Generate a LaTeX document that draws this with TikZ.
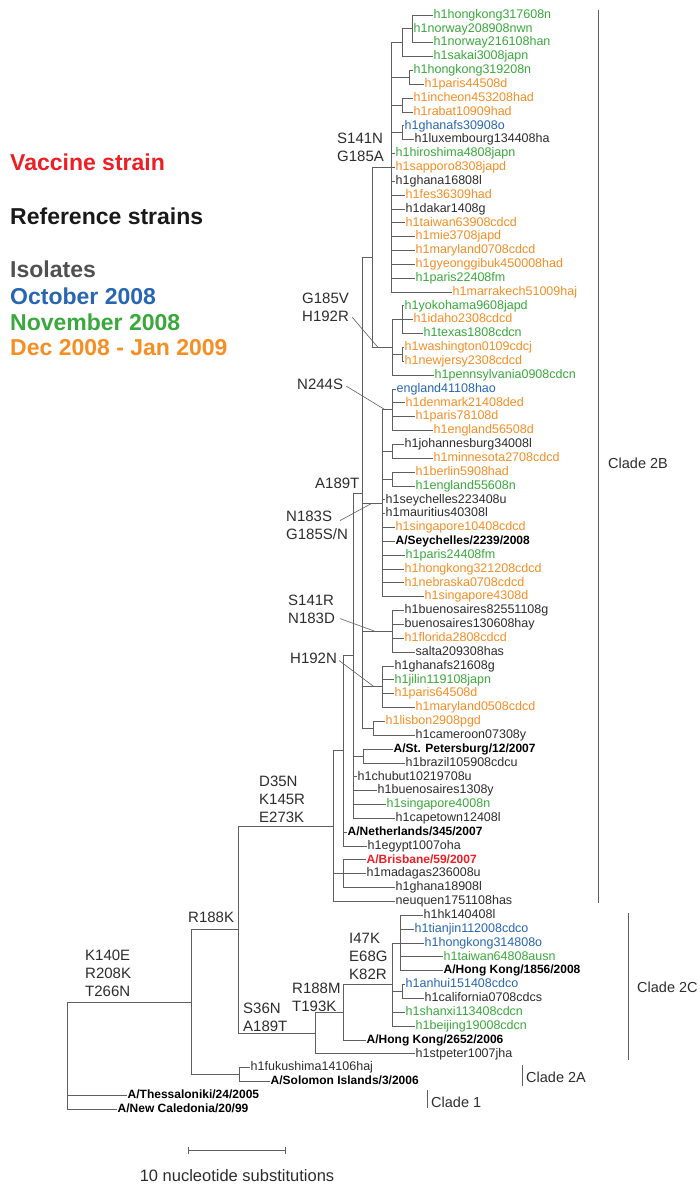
\documentclass[tikz,border=0pt]{standalone}
\usepackage{fontspec}
\setmainfont{Liberation Sans}
\definecolor{vacred}{RGB}{237,30,36}
\definecolor{octblue}{RGB}{40,102,178}
\definecolor{novgreen}{RGB}{58,168,60}
\definecolor{decorange}{RGB}{246,142,36}
\definecolor{isogray}{RGB}{80,80,80}
\definecolor{txtgray}{RGB}{45,45,45}
\definecolor{linegray}{RGB}{95,95,95}
\tikzset{
  br/.style={draw=linegray, line width=0.8pt},
  mutline/.style={draw=linegray, line width=0.6pt},
  cladebar/.style={draw=linegray, line width=0.8pt},
  leaf/.style={anchor=west, inner xsep=0.5pt, inner ysep=0pt, text height=9pt, text depth=2.5pt,
    font=\fontsize{12.5}{14}\selectfont, text=txtgray},
  grn/.style={text=novgreen},
  org/.style={text=decorange},
  blu/.style={text=octblue},
  refst/.style={font=\fontsize{12}{14}\selectfont\bfseries, text=black},
  vacst/.style={font=\fontsize{12}{14}\selectfont\bfseries, text=vacred},
  mut/.style={anchor=north west, inner sep=0pt, align=left, font=\fontsize{15}{18}\selectfont, text=txtgray},
  legendtxt/.style={anchor=west, inner sep=0pt, font=\fontsize{23}{27}\selectfont\bfseries},
  cladelbl/.style={anchor=west, inner sep=0pt, font=\fontsize{14.5}{17}\selectfont, text=txtgray}
}
\begin{document}
\begin{tikzpicture}[x=1pt,y=-1pt]
\fill[white] (0,0) rectangle (699,1185);
\useasboundingbox (0,0) rectangle (699,1185);
% legend
\node[legendtxt,text=vacred] (lgvac) at (10,162) {Vaccine strain};
\node[legendtxt,text=black!90] (lgref) at (10,216) {Reference strains};
\node[legendtxt,text=isogray] (lgiso) at (10,269) {Isolates};
\node[legendtxt,text=octblue] (lgoct) at (10,296) {October 2008};
\node[legendtxt,text=novgreen] (lgnov) at (10,322) {November 2008};
\node[legendtxt,text=decorange] (lgdec) at (10,348) {Dec 2008 - Jan 2009};
% leaves
\path (433,15) node[leaf,grn] (l1) {h1hongkong317608n}
(413,28.85) node[leaf,grn] (l2) {h1norway208908nwn}
(433,42.7) node[leaf,grn] (l3) {h1norway216108han}
(433,56.55) node[leaf,grn] (l4) {h1sakai3008japn}
(413,70.4) node[leaf,grn] (l5) {h1hongkong319208n}
(424,84.25) node[leaf,org] (l6) {h1paris44508d}
(413,98.1) node[leaf,org] (l7) {h1incheon453208had}
(413,111.95) node[leaf,org] (l8) {h1rabat10909had}
(404,125.8) node[leaf,blu] (l9) {h1ghanafs30908o}
(414,139.65) node[leaf] (l10) {h1luxembourg134408ha}
(395,153.5) node[leaf,grn] (l11) {h1hiroshima4808japn}
(395,167.35) node[leaf,org] (l12) {h1sapporo8308japd}
(395,181.2) node[leaf] (l13) {h1ghana16808l}
(405,195.05) node[leaf,org] (l14) {h1fes36309had}
(405,208.9) node[leaf] (l15) {h1dakar1408g}
(405,222.75) node[leaf,org] (l16) {h1taiwan63908cdcd}
(415,236.6) node[leaf,org] (l17) {h1mie3708japd}
(415,250.45) node[leaf,org] (l18) {h1maryland0708cdcd}
(415,264.3) node[leaf,org] (l19) {h1gyeonggibuk450008had}
(415,278.15) node[leaf,grn] (l20) {h1paris22408fm}
(452,292) node[leaf,org] (l21) {h1marrakech51009haj}
(404,305.85) node[leaf,grn] (l22) {h1yokohama9608japd}
(413,319.7) node[leaf,org] (l23) {h1idaho2308cdcd}
(423,333.55) node[leaf,grn] (l24) {h1texas1808cdcn}
(404,347.4) node[leaf,org] (l25) {h1washington0109cdcj}
(404,361.25) node[leaf,org] (l26) {h1newjersy2308cdcd}
(434,375.1) node[leaf,grn] (l27) {h1pennsylvania0908cdcn}
(396,388.95) node[leaf,blu] (l28) {england41108hao}
(405,402.8) node[leaf,org] (l29) {h1denmark21408ded}
(415,416.65) node[leaf,org] (l30) {h1paris78108d}
(433,430.5) node[leaf,org] (l31) {h1england56508d}
(404,444.35) node[leaf] (l32) {h1johannesburg34008l}
(433,458.2) node[leaf,org] (l33) {h1minnesota2708cdcd}
(415,472.05) node[leaf,org] (l34) {h1berlin5908had}
(415,485.9) node[leaf,grn] (l35) {h1england55608n}
(385,499.75) node[leaf] (l36) {h1seychelles223408u}
(385,513.6) node[leaf] (l37) {h1mauritius40308l}
(395,527.45) node[leaf,org] (l38) {h1singapore10408cdcd}
(395,541.3) node[leaf,refst] (l39) {A/Seychelles/2239/2008}
(405,555.15) node[leaf,grn] (l40) {h1paris24408fm}
(404,569) node[leaf,org] (l41) {h1hongkong321208cdcd}
(404,582.85) node[leaf,org] (l42) {h1nebraska0708cdcd}
(424,596.7) node[leaf,org] (l43) {h1singapore4308d}
(404,610.55) node[leaf] (l44) {h1buenosaires82551108g}
(404,624.4) node[leaf] (l45) {buenosaires130608hay}
(404,638.25) node[leaf,org] (l46) {h1florida2808cdcd}
(415,652.1) node[leaf] (l47) {salta209308has}
(394,665.95) node[leaf] (l48) {h1ghanafs21608g}
(394,679.8) node[leaf,grn] (l49) {h1jilin119108japn}
(394,693.65) node[leaf,org] (l50) {h1paris64508d}
(415,707.5) node[leaf,org] (l51) {h1maryland0508cdcd}
(385,721.35) node[leaf,org] (l52) {h1lisbon2908pgd}
(415,735.2) node[leaf] (l53) {h1cameroon07308y}
(393,749.05) node[leaf,refst] (l54) {A/St. Petersburg/12/2007}
(405,762.9) node[leaf] (l55) {h1brazil105908cdcu}
(357,776.75) node[leaf] (l56) {h1chubut10219708u}
(377,790.6) node[leaf] (l57) {h1buenosaires1308y}
(386,804.45) node[leaf,grn] (l58) {h1singapore4008n}
(395,818.3) node[leaf] (l59) {h1capetown12408l}
(347,832.15) node[leaf,refst] (l60) {A/Netherlands/345/2007}
(367,846) node[leaf] (l61) {h1egypt1007oha}
(366,859.85) node[leaf,vacst] (l62) {A/Brisbane/59/2007}
(366,873.7) node[leaf] (l63) {h1madagas236008u}
(395,887.55) node[leaf] (l64) {h1ghana18908l}
(395,901.4) node[leaf] (l65) {neuquen1751108has}
(423,915.25) node[leaf] (l66) {h1hk140408l}
(414,929.1) node[leaf,blu] (l67) {h1tianjin112008cdco}
(424,942.95) node[leaf,blu] (l68) {h1hongkong314808o}
(443,956.8) node[leaf,grn] (l69) {h1taiwan64808ausn}
(443,970.65) node[leaf,refst] (l70) {A/Hong Kong/1856/2008}
(405,984.5) node[leaf,blu] (l71) {h1anhui151408cdco}
(424,998.35) node[leaf] (l72) {h1california0708cdcs}
(405,1012.2) node[leaf,grn] (l73) {h1shanxi113408cdcn}
(415,1026.05) node[leaf,grn] (l74) {h1beijing19008cdcn}
(366,1039.9) node[leaf,refst] (l75) {A/Hong Kong/2652/2006}
(415,1053.75) node[leaf] (l76) {h1stpeter1007jha}
(250,1067.6) node[leaf] (l77) {h1fukushima14106haj}
(270,1081.45) node[leaf,refst] (l78) {A/Solomon Islands/3/2006}
(127,1095.3) node[leaf,refst] (l79) {A/Thessaloniki/24/2005}
(117,1109.15) node[leaf,refst] (l80) {A/New Caledonia/20/99};
% internal nodes
\coordinate (root) at (67,1002);
\coordinate (nBig) at (191,1002);
\coordinate (nK) at (238,929.5);
\coordinate (nSol) at (239,1074.5);
\coordinate (nS36) at (315,1033);
\coordinate (nR188M) at (343,1012.2);
\coordinate (nI47K) at (392,984.5);
\coordinate (nHK) at (400,942.95);
\coordinate (nAnhui) at (402,991.4);
\coordinate (nD) at (333,826.1);
\coordinate (nBr) at (343,873.7);
\coordinate (nT) at (343,750.8);
\coordinate (nR) at (353,655.6);
\coordinate (nStP) at (363,756);
\coordinate (nQ) at (362,492.9);
\coordinate (nL) at (373,728.3);
\coordinate (nH) at (382,686.7);
\coordinate (nB) at (392,631.3);
\coordinate (nS) at (382,503.2);
\coordinate (nBer) at (392,479);
\coordinate (nJoh) at (392,451.3);
\coordinate (nN244) at (392,409.7);
\coordinate (nP) at (372,257.4);
\coordinate (nG) at (392,347.4);
\coordinate (nW) at (402,354.3);
\coordinate (nY) at (402,319.7);
\coordinate (nS141) at (391,167.35);
\coordinate (nGha) at (402,132.7);
\coordinate (nInc) at (402,105);
\coordinate (nHkp) at (409,77.3);
\coordinate (nN2) at (402,42.7);
\coordinate (nN1) at (412,28.85);
% branches
\draw[br] (root) |- (nBig) (root) |- (l79.west) (root) |- (l80.west);
\draw[br] (nBig) |- (nK) (nBig) |- (nSol);
\draw[br] (nSol) |- (l77.west) (nSol) |- (l78.west);
\draw[br] (nK) |- (nD) (nK) |- (nS36);
\draw[br] (nS36) |- (nR188M) (nS36) |- (l76.west);
\draw[br] (nR188M) |- (nI47K) (nR188M) |- (l75.west);
\draw[br] (nI47K) |- (nHK) (nI47K) |- (nAnhui) (nI47K) |- (l73.west) (nI47K) |- (l74.west);
\draw[br] (nHK) |- (l66.west) (nHK) |- (l67.west) (nHK) |- (l68.west) (nHK) |- (l69.west) (nHK) |- (l70.west);
\draw[br] (nAnhui) |- (l71.west) (nAnhui) |- (l72.west);
\draw[br] (nD) |- (nT) (nD) |- (nBr) (nD) |- (l65.west);
\draw[br] (nBr) |- (l62.west) (nBr) |- (l63.west) (nBr) |- (l64.west);
\draw[br] (nT) |- (nR) (nT) |- (l60.west) (nT) |- (l61.west);
\draw[br] (nR) |- (nQ) (nR) |- (nStP) (nR) |- (l56.west) (nR) |- (l57.west) (nR) |- (l58.west) (nR) |- (l59.west);
\draw[br] (nStP) |- (l54.west) (nStP) |- (l55.west);
\draw[br] (nQ) |- (nP) (nQ) |- (nS) (nQ) |- (nB) (nQ) |- (nH) (nQ) |- (nL);
\draw[br] (nL) |- (l52.west) (nL) |- (l53.west);
\draw[br] (nH) |- (l48.west) (nH) |- (l49.west) (nH) |- (l50.west) (nH) |- (l51.west);
\draw[br] (nB) |- (l44.west) (nB) |- (l45.west) (nB) |- (l46.west) (nB) |- (l47.west);
\draw[br] (nS) |- (nN244) (nS) |- (nJoh) (nS) |- (nBer) (nS) |- (l36.west) (nS) |- (l37.west)
  (nS) |- (l38.west) (nS) |- (l39.west) (nS) |- (l40.west) (nS) |- (l41.west) (nS) |- (l42.west) (nS) |- (l43.west);
\draw[br] (nN244) |- (l28.west) (nN244) |- (l29.west) (nN244) |- (l30.west) (nN244) |- (l31.west);
\draw[br] (nJoh) |- (l32.west) (nJoh) |- (l33.west);
\draw[br] (nBer) |- (l34.west) (nBer) |- (l35.west);
\draw[br] (nP) |- (nS141) (nP) |- (nG);
\draw[br] (nG) |- (nY) (nG) |- (nW) (nG) |- (l27.west);
\draw[br] (nY) |- (l22.west) (nY) |- (l23.west) (nY) |- (l24.west);
\draw[br] (nW) |- (l25.west) (nW) |- (l26.west);
\draw[br] (nS141) |- (nN2) (nS141) |- (nHkp) (nS141) |- (nInc) (nS141) |- (nGha)
  (nS141) |- (l11.west) (nS141) |- (l12.west) (nS141) |- (l13.west) (nS141) |- (l14.west)
  (nS141) |- (l15.west) (nS141) |- (l16.west) (nS141) |- (l17.west) (nS141) |- (l18.west)
  (nS141) |- (l19.west) (nS141) |- (l20.west) (nS141) |- (l21.west);
\draw[br] (nN2) |- (nN1) (nN2) |- (l4.west);
\draw[br] (nN1) |- (l1.west) (nN1) |- (l2.west) (nN1) |- (l3.west);
\draw[br] (nHkp) |- (l5.west) (nHkp) |- (l6.west);
\draw[br] (nInc) |- (l7.west) (nInc) |- (l8.west);
\draw[br] (nGha) |- (l9.west) (nGha) |- (l10.west);
% mutations
\node[mut] (mS141) at (337,132.6) {S141N\\G185A};
\node[mut] (mG185) at (302,292.6) {G185V\\H192R};
\node[mut] (mN244) at (297,378.6) {N244S};
\node[mut] (mA189) at (315,477.6) {A189T};
\node[mut] (mN183) at (286,510.6) {N183S\\G185S/N};
\node[mut] (mS141R) at (288,594.6) {S141R\\N183D};
\node[mut] (mH192) at (290,653) {H192N};
\node[mut] (mD35) at (259,776) {D35N\\K145R\\E273K};
\node[mut] (mR188K) at (188,911.6) {R188K};
\node[mut] (mK140) at (85,950) {K140E\\R208K\\T266N};
\node[mut] (mI47) at (349,932.6) {I47K\\E68G\\K82R};
\node[mut] (mR188M) at (292,982.6) {R188M\\T193K};
\node[mut] (mS36) at (243,1002.6) {S36N\\A189T};
\coordinate (cG185) at (378,347.4);
\coordinate (cN244) at (385,409.7);
\coordinate (cN183) at (372,503.2);
\coordinate (cS141R) at (375,631.3);
\coordinate (cH192) at (374,686.7);
\draw[mutline] ([shift={(3pt,-10pt)}]mG185.east) -- (cG185);
\draw[mutline] ([shift={(3pt,-2pt)}]mN244.east) -- (cN244);
\draw[mutline] ([shift={(54pt,-10pt)}]mN183.north west) -- (cN183);
\draw[mutline] ([shift={(5pt,-24pt)}]mS141R.north east) -- (cS141R);
\draw[mutline] ([shift={(2pt,-2pt)}]mH192.east) -- (cH192);
% clades
\coordinate (b2Bt) at (598,10); \coordinate (b2Bb) at (598,903);
\coordinate (b2Ct) at (628,913); \coordinate (b2Cb) at (628,1060);
\coordinate (b2At) at (522,1065); \coordinate (b2Ab) at (522,1086);
\coordinate (b1t) at (427,1090); \coordinate (b1b) at (427,1108);
\draw[cladebar] (b2Bt) -- (b2Bb);
\draw[cladebar] (b2Ct) -- (b2Cb);
\draw[cladebar] (b2At) -- (b2Ab);
\draw[cladebar] (b1t) -- (b1b);
\node[cladelbl] (lb2B) at (608,463) {Clade 2B};
\node[cladelbl] (lb2C) at (637,987) {Clade 2C};
\node[cladelbl] (lb2A) at (526,1077) {Clade 2A};
\node[cladelbl] (lb1) at (431,1102) {Clade 1};
% scale bar
\coordinate (sbl) at (188,1150);
\coordinate (sbr) at (285,1150);
\draw[br] (sbl) -- (sbr) ([yshift=3.5pt]sbl) -- ([yshift=-3.5pt]sbl) ([yshift=3.5pt]sbr) -- ([yshift=-3.5pt]sbr);
\node[font=\fontsize{16.5}{19}\selectfont, text=txtgray, inner sep=0pt] (sbt) at (237,1176) {10 nucleotide substitutions};
\end{tikzpicture}
\end{document}
